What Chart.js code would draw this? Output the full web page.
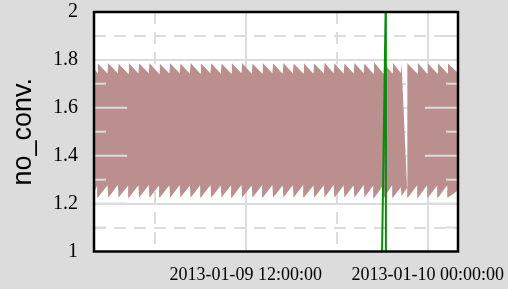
<!DOCTYPE html>
<html>
<head>
<meta charset="utf-8">
<script src="https://cdn.jsdelivr.net/npm/chart.js@4.4.0/dist/chart.umd.min.js"></script>
<style>
    html, body { margin: 0; padding: 0; background: #dcdcdc; }
    canvas { display: block; }
</style>
</head>
<body>
<canvas id="chart" width="508" height="289"></canvas>
<script>
// hours counted from 2013-01-09 00:00:00
const upperHours = [
    2.00, 2.21, 2.26, 2.89, 2.94, 3.57, 3.62, 4.25, 4.30, 4.93, 4.98, 5.61, 5.66, 6.29,
    6.34, 6.97, 7.02, 7.65, 7.70, 8.32, 8.37, 9.00, 9.05, 9.68, 9.73, 10.36, 10.41, 11.04,
    11.09, 11.72, 11.77, 12.40, 12.45, 13.08, 13.13, 13.76, 13.81, 14.44, 14.49, 15.11,
    15.16, 15.79, 15.84, 16.47, 16.52, 17.15, 17.20, 17.80, 17.85, 18.46, 18.51, 19.12,
    19.17, 19.78, 19.83, 20.41, 20.46, 21.07, 21.12, 21.66, 21.71, 22.23, 22.28, 22.64,
    22.66, 23.31, 23.36, 23.97, 24.02, 24.63, 24.68, 25.29, 25.34, 26.00
];
const upperValues = [
    1.765, 1.745, 1.785, 1.743, 1.786, 1.744, 1.784, 1.742, 1.786, 1.743, 1.785, 1.744, 1.786, 1.742,
    1.784, 1.743, 1.786, 1.744, 1.785, 1.742, 1.787, 1.743, 1.785, 1.744, 1.786, 1.742, 1.785, 1.743,
    1.786, 1.744, 1.787, 1.742, 1.785, 1.743, 1.786, 1.744, 1.785, 1.742, 1.787, 1.743,
    1.785, 1.744, 1.786, 1.742, 1.785, 1.743, 1.788, 1.744, 1.786, 1.742, 1.785, 1.743,
    1.787, 1.744, 1.785, 1.742, 1.790, 1.743, 1.786, 1.744, 1.787, 1.745, 1.785, 1.268,
    1.786, 1.743, 1.787, 1.742, 1.785, 1.743, 1.786, 1.744, 1.785, 1.745
];
const lowerHours = [
    2.00, 2.21, 2.26, 2.89, 2.94, 3.57, 3.62, 4.25, 4.30, 4.93, 4.98, 5.61, 5.66, 6.29,
    6.34, 6.97, 7.02, 7.65, 7.70, 8.32, 8.37, 9.00, 9.05, 9.68, 9.73, 10.36, 10.41, 11.04,
    11.09, 11.72, 11.77, 12.40, 12.45, 13.08, 13.13, 13.76, 13.81, 14.44, 14.49, 15.11,
    15.16, 15.79, 15.84, 16.47, 16.52, 17.15, 17.20, 17.80, 17.85, 18.46, 18.51, 19.12,
    19.17, 19.78, 19.83, 20.41, 20.46, 21.07, 21.12, 21.66, 21.71, 22.23, 22.28, 22.65,
    22.70, 23.31, 23.36, 23.97, 24.02, 24.63, 24.68, 25.29, 25.34, 26.00
];
const lowerValues = [
    1.245, 1.276, 1.225, 1.277, 1.224, 1.278, 1.225, 1.276, 1.224, 1.277, 1.225, 1.278, 1.224, 1.276,
    1.225, 1.277, 1.224, 1.278, 1.225, 1.276, 1.224, 1.277, 1.225, 1.278, 1.224, 1.276, 1.225, 1.277,
    1.224, 1.278, 1.225, 1.276, 1.224, 1.277, 1.225, 1.278, 1.224, 1.276, 1.225, 1.277,
    1.224, 1.278, 1.225, 1.276, 1.224, 1.277, 1.225, 1.278, 1.224, 1.276, 1.225, 1.277,
    1.224, 1.278, 1.225, 1.276, 1.222, 1.277, 1.224, 1.278, 1.225, 1.268, 1.232, 1.266,
    1.225, 1.277, 1.224, 1.278, 1.225, 1.276, 1.224, 1.277, 1.225, 1.255
];
const greenHours = [20.99, 21.23, 21.245];
const greenValues = [0.98, 2.02, 0.98];

const xTickHours = [6, 12, 18, 24];
const xLabelHours = [12, 24];
const xLabelTexts = ['2013-01-09 12:00:00', '2013-01-10 00:00:00'];
const yTickValues = [1, 1.1, 1.2, 1.3, 1.4, 1.5, 1.6, 1.7, 1.8, 1.9, 2];
const yLabels = ['1', '1.2', '1.4', '1.6', '1.8', '2'];
const yMajorTicks = [1.2, 1.4, 1.6, 1.8];
const yMinorTicks = [1.1, 1.3, 1.5, 1.7, 1.9];

const toPoints = (xs, ys) => xs.map((x, i) => ({ x: x, y: ys[i] }));
const isMajorY = v => Math.round(v * 10) % 2 === 0;

// white plot area, inner tick marks over the fill, black frame
const framePlugin = {
    id: 'frame',
    beforeDraw(chart) {
        const { ctx, chartArea: a } = chart;
        ctx.save();
        ctx.fillStyle = '#ffffff';
        ctx.fillRect(a.left, a.top, a.right - a.left, a.bottom - a.top);
        ctx.restore();
    },
    afterDatasetsDraw(chart) {
        const { ctx, chartArea: a } = chart;
        const y = chart.scales.y;
        ctx.save();
        ctx.strokeStyle = '#dcdcdc';
        ctx.lineWidth = 2;
        const mark = (vals, len) => vals.forEach(v => {
            const py = y.getPixelForValue(v);
            ctx.beginPath();
            ctx.moveTo(a.left, py);
            ctx.lineTo(a.left + len, py);
            ctx.moveTo(a.right, py);
            ctx.lineTo(a.right - len, py);
            ctx.stroke();
        });
        mark(yMajorTicks, 33);
        mark(yMinorTicks, 12);
        ctx.strokeStyle = '#000000';
        ctx.lineWidth = 2.5;
        ctx.strokeRect(a.left, a.top, a.right - a.left, a.bottom - a.top);
        ctx.restore();
    }
};

new Chart(document.getElementById('chart'), {
    type: 'line',
    data: {
        datasets: [
            {
                data: toPoints(greenHours, greenValues),
                borderColor: '#0a8c0a',
                borderWidth: 2,
                pointRadius: 0,
                fill: false
            },
            {
                data: toPoints(upperHours, upperValues),
                borderWidth: 0,
                borderColor: 'rgba(0,0,0,0)',
                backgroundColor: '#bc8f8f',
                pointRadius: 0,
                fill: '+1'
            },
            {
                data: toPoints(lowerHours, lowerValues),
                borderWidth: 0,
                borderColor: 'rgba(0,0,0,0)',
                pointRadius: 0,
                fill: false
            }
        ]
    },
    options: {
        responsive: false,
        animation: false,
        devicePixelRatio: 1,
        layout: { padding: { top: 12, right: 50, left: 0, bottom: 0 } },
        plugins: {
            legend: { display: false },
            tooltip: { enabled: false }
        },
        elements: { line: { tension: 0 } },
        scales: {
            x: {
                type: 'linear',
                min: 2,
                max: 26,
                afterBuildTicks: s => { s.ticks = xTickHours.map(v => ({ value: v })); },
                afterFit: s => { s.height = 37.5; s.paddingLeft = 0; s.paddingRight = 0; },
                grid: { color: '#dcdcdc', lineWidth: 2, drawTicks: false },
                border: {
                    display: false,
                    dash: ctx => (ctx.tick && ctx.tick.value % 12 === 0 ? [] : [12, 8])
                },
                ticks: {
                    autoSkip: false,
                    maxRotation: 0,
                    padding: 13,
                    color: '#000000',
                    font: { family: 'Liberation Serif', size: 18 },
                    callback: v => {
                        const i = xLabelHours.indexOf(v);
                        return i >= 0 ? xLabelTexts[i] : '';
                    }
                }
            },
            y: {
                min: 1,
                max: 2,
                afterBuildTicks: s => { s.ticks = yTickValues.map(v => ({ value: v })); },
                afterFit: s => { s.width = 94; s.paddingTop = 0; s.paddingBottom = 0; },
                grid: { color: '#dcdcdc', lineWidth: 2, drawTicks: false },
                border: {
                    display: false,
                    dash: ctx => (ctx.tick && isMajorY(ctx.tick.value) ? [] : [12, 8])
                },
                title: {
                    display: true,
                    text: 'no_conv.',
                    color: '#000000',
                    font: { family: 'Liberation Sans', size: 27 },
                    padding: { top: 7, bottom: 0 }
                },
                ticks: {
                    autoSkip: false,
                    padding: 16,
                    color: '#000000',
                    font: { family: 'Liberation Serif', size: 20 },
                    callback: v => {
                        const s = yLabels.find(l => Math.abs(Number(l) - v) < 1e-6);
                        return s || '';
                    }
                }
            }
        }
    },
    plugins: [framePlugin]
});
</script>
</body>
</html>
